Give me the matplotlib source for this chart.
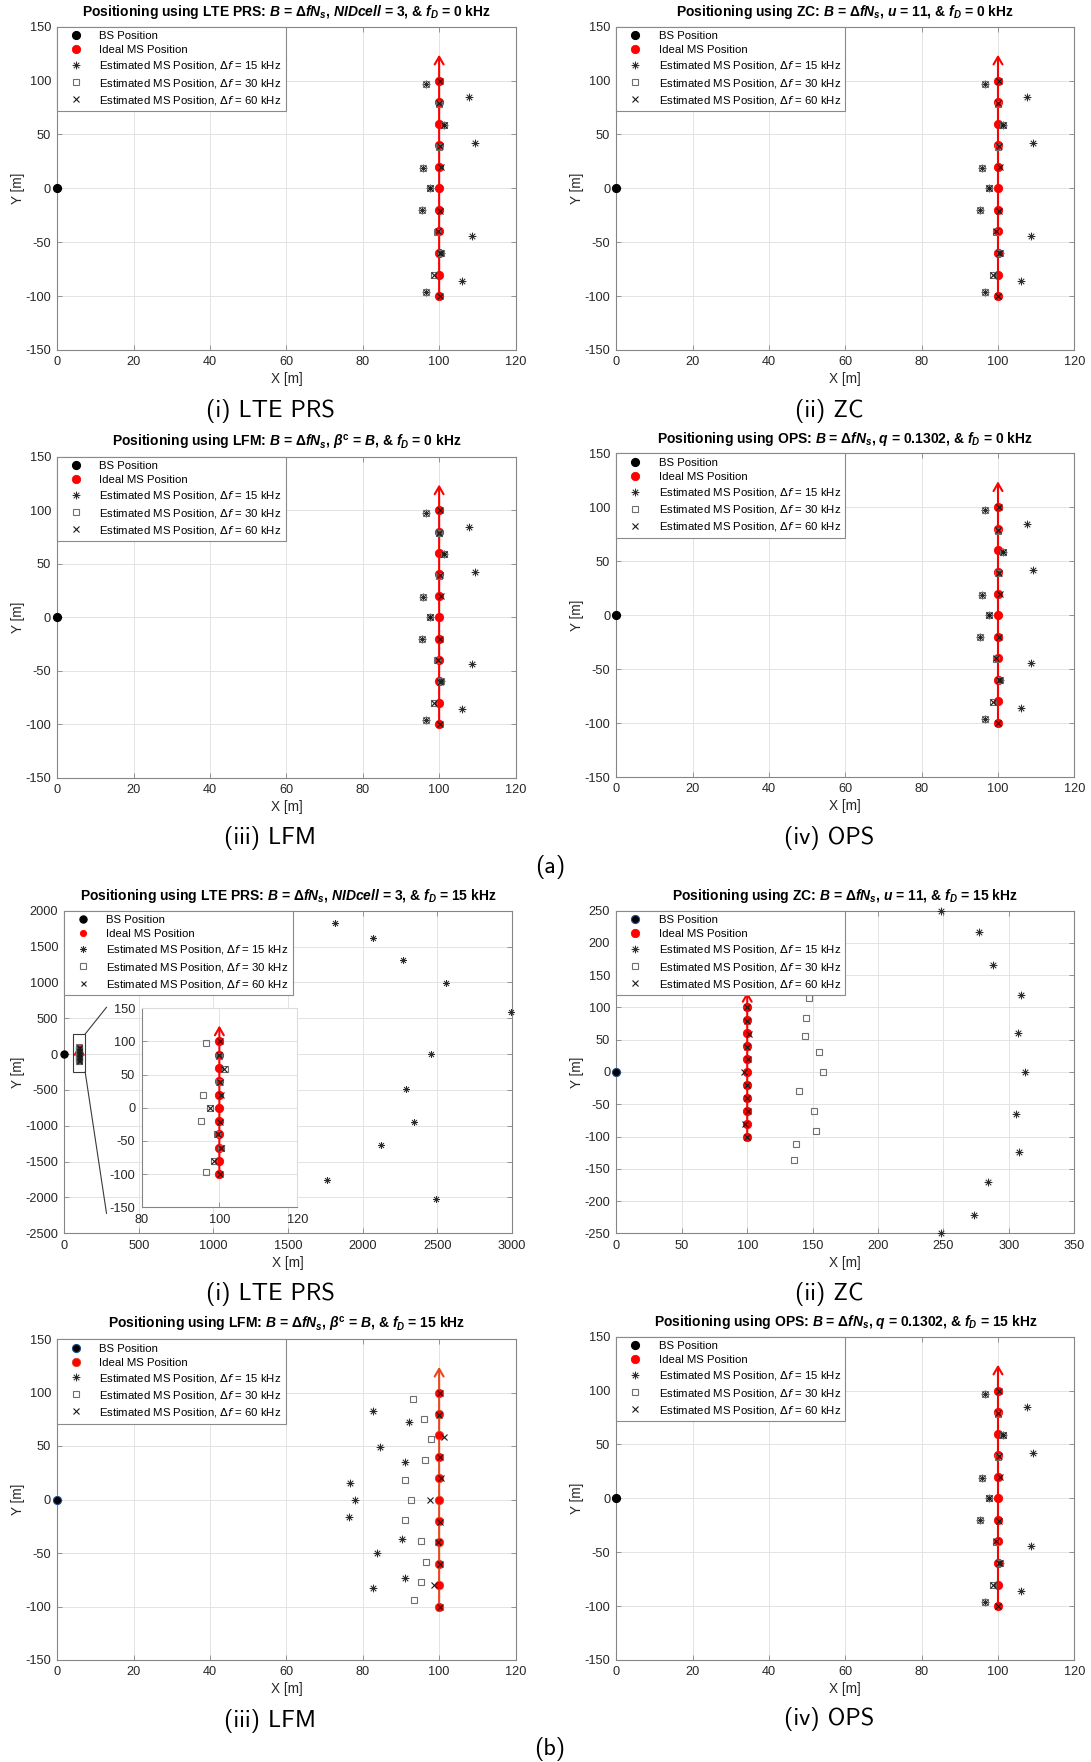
import matplotlib
matplotlib.use("Agg")
import matplotlib.pyplot as plt
from matplotlib.path import Path
from matplotlib.font_manager import FontProperties
from matplotlib.patches import Rectangle
from matplotlib.lines import Line2D

W, H = 1091, 1762
plt.rcParams['font.family'] = ['Liberation Sans', 'DejaVu Sans']
plt.rcParams['mathtext.fontset'] = 'custom'
plt.rcParams['mathtext.rm'] = 'Liberation Sans:bold'
plt.rcParams['mathtext.it'] = 'Liberation Sans:italic:bold'
plt.rcParams['mathtext.bf'] = 'Liberation Sans:bold'
plt.rcParams['axes.unicode_minus'] = False

# ---------------- data ----------------
bs_x = [0]
bs_y = [0]
ideal_x = [100, 100, 100, 100, 100, 100, 100, 100, 100, 100, 100]
ideal_y = [100, 80, 60, 40, 20, 0, -20, -40, -60, -80, -100]
arrow_tip_y = 124

# fD = 0 kHz (same for all four waveforms) and OPS with fD = 15 kHz
x15_fd0 = [96.5, 107.7, 101.4, 109.3, 95.8, 97.6, 95.4, 108.6, 100.4, 106.1, 96.5]
y15_fd0 = [97.0, 84.4, 58.8, 41.8, 18.6, 0.0, -20.1, -43.9, -60.0, -86.0, -96.5]
x30_fd0 = [96.5, 100.0, 101.4, 100.0, 95.8, 97.6, 95.4, 99.5, 100.4, 98.6, 96.5]
y30_fd0 = [97.0, 78.3, 58.8, 38.7, 18.6, 0.0, -20.0, -40.2, -60.0, -80.4, -96.5]
x60 = [100.2, 100.0, 101.3, 100.2, 100.4, 97.6, 100.2, 99.6, 100.3, 98.6, 100.1]
y60 = [100.0, 79.0, 58.7, 39.4, 19.8, 0.0, -20.7, -40.0, -60.3, -80.2, -100.0]

# LTE PRS, fD = 15 kHz
x15_lte = [1813, 2070, 2273, 2562, 2995, 2461, 2294, 2345, 2126, 1760, 2494]
y15_lte = [1823, 1623, 1317, 987, 582, 6, -487, -947, -1273, -1761, -2021]

# ZC, fD = 15 kHz
x15_zc = [248.3, 276.8, 287.5, 309.6, 306.6, 312.2, 305.3, 307.7, 284.3, 273.1, 248.3]
y15_zc = [249.5, 217.2, 166.3, 118.8, 59.9, 0.0, -64.6, -124.5, -171.0, -221.0, -249.0]
x30_zc = [136.0, 146.9, 145.1, 144.3, 154.9, 157.6, 139.7, 151.2, 152.8, 137.6, 136.0]
y30_zc = [140.0, 114.7, 84.2, 55.3, 30.5, 0.0, -29.4, -61.0, -91.9, -111.0, -135.8]

# LFM, fD = 15 kHz
x15_lfm = [82.7, 92.2, 84.5, 91.0, 76.7, 78.0, 76.4, 90.4, 83.6, 91.0, 82.7]
y15_lfm = [82.7, 72.1, 49.1, 34.7, 15.1, 0.0, -16.7, -36.6, -50.3, -73.7, -83.0]
x30_lfm = [93.2, 96.0, 97.9, 96.2, 91.0, 92.7, 91.1, 95.3, 96.6, 95.3, 93.5]
y30_lfm = [93.6, 75.2, 56.5, 36.9, 17.9, 0.0, -19.5, -38.5, -58.1, -77.4, -93.9]

legend_labels = ["BS Position", "Ideal MS Position",
                 r"Estimated MS Position, $\Delta f$ = 15 kHz",
                 r"Estimated MS Position, $\Delta f$ = 30 kHz",
                 r"Estimated MS Position, $\Delta f$ = 60 kHz"]

titles = [
    r"Positioning using LTE PRS: $B$ = $\Delta fN_s$, $NIDcell$ = 3, & $f_D$ = 0 kHz",
    r"Positioning using ZC: $B$ = $\Delta fN_s$, $u$ = 11, & $f_D$ = 0 kHz",
    r"Positioning using LFM: $B$ = $\Delta fN_s$, $\beta^{\mathrm{c}}$ = $B$, & $f_D$ = 0 kHz",
    r"Positioning using OPS: $B$ = $\Delta fN_s$, $q$ = 0.1302, & $f_D$ = 0 kHz",
    r"Positioning using LTE PRS: $B$ = $\Delta fN_s$, $NIDcell$ = 3, & $f_D$ = 15 kHz",
    r"Positioning using ZC: $B$ = $\Delta fN_s$, $u$ = 11, & $f_D$ = 15 kHz",
    r"Positioning using LFM: $B$ = $\Delta fN_s$, $\beta^{\mathrm{c}}$ = $B$, & $f_D$ = 15 kHz",
    r"Positioning using OPS: $B$ = $\Delta fN_s$, $q$ = 0.1302, & $f_D$ = 15 kHz",
]
captions = ["(i) LTE PRS", "(ii) ZC", "(iii) LFM", "(iv) OPS"] * 2
group_labels = ["(a)", "(b)"]

ticks_std_x = [0, 20, 40, 60, 80, 100, 120]
ticks_std_y = [-150, -100, -50, 0, 50, 100, 150]
ticks_lte_x = [0, 500, 1000, 1500, 2000, 2500, 3000]
ticks_lte_y = [-2500, -2000, -1500, -1000, -500, 0, 500, 1000, 1500, 2000]
ticks_zc_x = [0, 50, 100, 150, 200, 250, 300, 350]
ticks_zc_y = [-250, -200, -150, -100, -50, 0, 50, 100, 150, 200, 250]
ticks_inset_x = [80, 100, 120]
zoom_box_x = [60, 140]
zoom_box_y = [-250, 280]

# ---------------- styling ----------------
AST = Path([(-1, 0), (1, 0), (0, -1), (0, 1),
            (-0.707, -0.707), (0.707, 0.707), (-0.707, 0.707), (0.707, -0.707)],
           [Path.MOVETO, Path.LINETO] * 4)

fig = plt.figure(figsize=(W / 100, H / 100), dpi=100)


def add_ax(l, t, r, b):
    return fig.add_axes([l / W, 1 - b / H, (r - l) / W, (b - t) / H])


def style(ax, xlim, ylim, xt, yt, lab=True):
    ax.set_xlim(xlim)
    ax.set_ylim(ylim)
    ax.set_xticks(xt)
    ax.set_yticks(yt)
    ax.grid(True, color='#e3e3e3', lw=0.7)
    ax.set_axisbelow(True)
    for s in ax.spines.values():
        s.set_color('#858585')
        s.set_linewidth(0.8)
    ax.tick_params(direction='in', top=True, right=True, length=3.5, width=0.6,
                   color='#858585', labelcolor='#262626', labelsize=9.2, pad=4.5)
    if lab:
        ax.set_xlabel("X [m]", fontsize=9.8, color='#262626', labelpad=3)
        ax.set_ylabel("Y [m]", fontsize=9.8, color='#262626', labelpad=0)


def draw_marks(ax, x15, y15, x30, y30, bs_edge='black', ideal_edge='red', arrow_col='red'):
    h_bs, = ax.plot(bs_x, bs_y, ls='none', marker='o', ms=5.8, mfc='black', mec=bs_edge,
                    mew=0.8, clip_on=False, zorder=5)
    ax.annotate("", xy=(ideal_x[0], arrow_tip_y), xytext=(ideal_x[-1], ideal_y[-1]),
                arrowprops=dict(arrowstyle='->,head_length=0.55,head_width=0.32',
                                color=arrow_col, lw=1.5, shrinkA=0, shrinkB=0), zorder=3)
    h_id, = ax.plot(ideal_x, ideal_y, ls='none', marker='o', ms=6.0, mfc='red', mec=ideal_edge,
                    mew=0.6, clip_on=False, zorder=4)
    h15, = ax.plot(x15, y15, ls='none', marker=AST, ms=5.6, mfc='none', mec='#2b2b2b',
                   mew=0.75, clip_on=False, zorder=6)
    h30, = ax.plot(x30, y30, ls='none', marker='s', ms=4.4, mfc='none', mec='#6f6f6f',
                   mew=0.8, clip_on=False, zorder=6)
    h60, = ax.plot(x60, y60, ls='none', marker='x', ms=4.0, mfc='none', mec='#1a1a1a',
                   mew=0.8, clip_on=False, zorder=7)
    return [h_bs, h_id, h15, h30, h60]


def add_legend(ax, handles):
    prop = FontProperties(family='Liberation Sans', size=8.2, math_fontfamily='dejavusans')
    leg = ax.legend(handles, legend_labels, loc='upper left', bbox_to_anchor=(0, 1),
                    borderaxespad=0, prop=prop, fancybox=False, framealpha=1,
                    edgecolor='#8a8a8a', handlelength=2.5, handletextpad=0.8,
                    labelspacing=0.36, borderpad=0.4, numpoints=1)
    leg.get_frame().set_linewidth(0.8)
    leg.set_zorder(10)
    return leg


def set_title(ax, txt):
    ax.set_title(txt, fontsize=10.0, fontweight='bold', pad=7.5, color='black')


boxes = [
    (57.3, 26.7, 515.5, 350.0),
    (616.4, 26.7, 1074.3, 350.0),
    (57.3, 456.7, 515.5, 777.7),
    (616.4, 453.3, 1074.3, 777.0),
    (64.3, 910.7, 511.7, 1233.3),
    (616.4, 910.7, 1074.3, 1233.3),
    (57.3, 1339.0, 515.5, 1660.0),
    (616.4, 1336.7, 1074.3, 1660.0),
]

# (a) panels and (b)(iv)
for i in [0, 1, 2, 3, 7]:
    ax = add_ax(*boxes[i])
    style(ax, (0, 120), (-150, 150), ticks_std_x, ticks_std_y)
    hs = draw_marks(ax, x15_fd0, y15_fd0, x30_fd0, y30_fd0)
    add_legend(ax, hs)
    set_title(ax, titles[i])

# (b)(i) LTE PRS with Doppler
ax = add_ax(*boxes[4])
style(ax, (0, 3000), (-2500, 2000), ticks_lte_x, ticks_lte_y)
hs = draw_marks(ax, x15_lte, y15_lte, x30_fd0, y30_fd0)
for h in hs:
    h.set_markersize(h.get_markersize() * 0.9)
hs[1].set_markersize(4.5)
add_legend(ax, hs)
set_title(ax, titles[4])
ax.add_patch(Rectangle((zoom_box_x[0], zoom_box_y[0]), zoom_box_x[1] - zoom_box_x[0],
                       zoom_box_y[1] - zoom_box_y[0], fill=False, ec='#3a3a3a', lw=0.8, zorder=8))
# inset
ins = add_ax(141.5, 1008.3, 297.2, 1207.3)
style(ins, (80, 120), (-150, 150), ticks_inset_x, ticks_std_y, lab=False)
ins.tick_params(top=False, right=False)
ins.spines['top'].set_color('#dcdcdc')
ins.spines['right'].set_color('#dcdcdc')
ins.set_zorder(20)
draw_marks(ins, x15_lte, y15_lte, x30_fd0, y30_fd0)
# connector lines (from zoom box corners towards the inset)
fig.canvas.draw()
inv = fig.transFigure.inverted()
p_tr = inv.transform(ax.transData.transform((zoom_box_x[1], zoom_box_y[1])))
p_br = inv.transform(ax.transData.transform((zoom_box_x[1], zoom_box_y[0])))
ib = ins.get_position()
end_x = ib.x0 - 35 / W
fig.add_artist(Line2D([p_tr[0], end_x], [p_tr[1], ib.y1 + 1 / H], color='#3a3a3a', lw=0.8,
                      transform=fig.transFigure, zorder=30))
fig.add_artist(Line2D([p_br[0], end_x], [p_br[1], ib.y0 - 6 / H], color='#3a3a3a', lw=0.8,
                      transform=fig.transFigure, zorder=30))

# (b)(ii) ZC with Doppler
ax = add_ax(*boxes[5])
style(ax, (0, 350), (-250, 250), ticks_zc_x, ticks_zc_y)
hs = draw_marks(ax, x15_zc, y15_zc, x30_zc, y30_zc, bs_edge='#1f4e8c')
add_legend(ax, hs)
set_title(ax, titles[5])

# (b)(iii) LFM with Doppler
ax = add_ax(*boxes[6])
style(ax, (0, 120), (-150, 150), ticks_std_x, ticks_std_y)
hs = draw_marks(ax, x15_lfm, y15_lfm, x30_lfm, y30_lfm, bs_edge='#1f4e8c',
                ideal_edge='#e0401a', arrow_col='#e8481e')
add_legend(ax, hs)
set_title(ax, titles[6])

# captions
cap_pos = [(270, 411), (829, 411), (270, 838), (829, 838),
           (270, 1294), (829, 1294), (270, 1721), (829, 1719)]
for (cx, cy), c in zip(cap_pos, captions):
    fig.text(cx / W, 1 - cy / H, c, ha='center', va='center', fontsize=17.4,
             family=['cmss10', 'DejaVu Sans'])
for (gx, gy), g in zip([(550, 867), (550, 1749)], group_labels):
    fig.text(gx / W, 1 - gy / H, g, ha='center', va='center', fontsize=17.4,
             family=['cmss10', 'DejaVu Sans'])

fig.savefig("out.png", dpi=100)
